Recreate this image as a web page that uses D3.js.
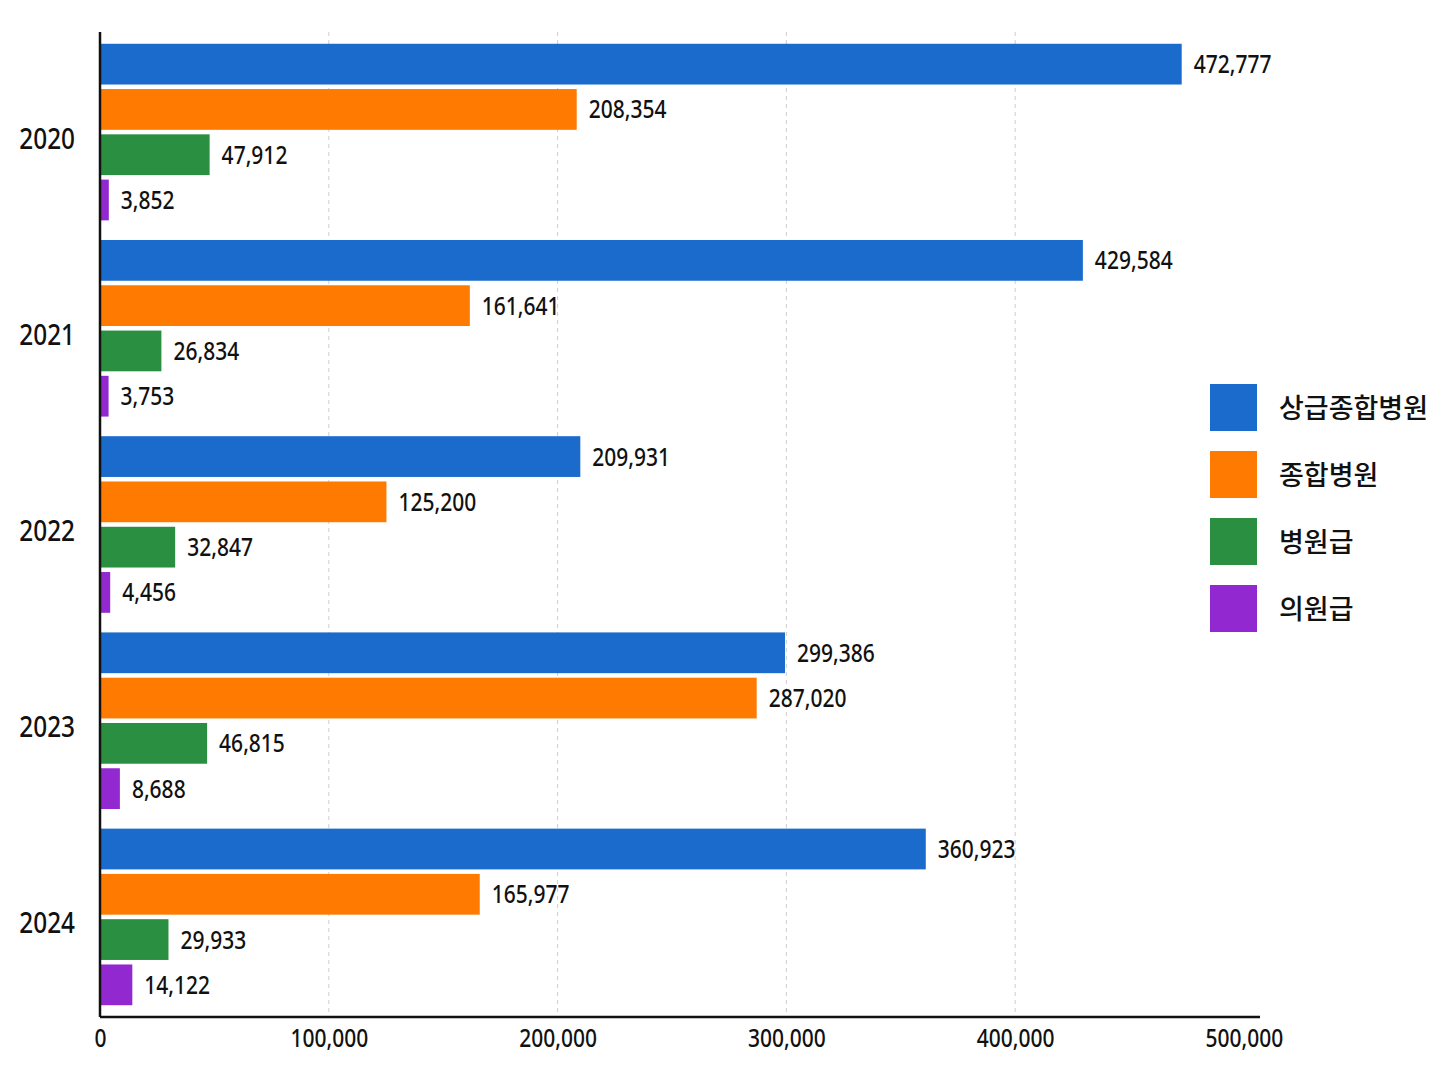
<!DOCTYPE html>
<html>
<head>
<meta charset="utf-8">
<script src="https://cdn.jsdelivr.net/npm/d3@7"></script>
<style>
  body { margin: 0; background: #fff; }
  svg { display: block; }
</style>
</head>
<body>
<svg id="chart"></svg>
<script>
// chart data
const years = ["2020", "2021", "2022", "2023", "2024"];
const seriesNames = ["상급종합병원", "종합병원", "병원급", "의원급"];
const tertiary = [472777, 429584, 209931, 299386, 360923];
const general = [208354, 161641, 125200, 287020, 165977];
const hospital = [47912, 26834, 32847, 46815, 29933];
const clinic = [3852, 3753, 4456, 8688, 14122];
const xTicks = [0, 100000, 200000, 300000, 400000, 500000];

const seriesValues = [tertiary, general, hospital, clinic];
const colors = ["#1a6bcc", "#ff7a00", "#2a8f40", "#9228d0"];

const W = 1448, H = 1086;
const plot = { left: 100, right: 1260, top: 32, bottom: 1017 };
const numFont = "'Noto Sans', 'Open Sans', sans-serif";
const squeeze = 0.84; // narrow digit look

const svg = d3.select("#chart").attr("width", W).attr("height", H);

// scales
const x = d3.scaleLinear().domain([0, 507000]).range([plot.left, plot.right]);
const y0 = d3.scaleBand().domain(years).range([plot.top, plot.bottom])
    .paddingInner(0.1).paddingOuter(0.06);
const y1 = d3.scaleBand().domain(seriesNames).range([0, y0.bandwidth()])
    .paddingInner(0.1);

// gridlines
svg.append("g")
    .selectAll("line")
    .data(xTicks.filter(d => d > 0 && d < 500000))
    .enter().append("line")
    .attr("x1", d => x(d)).attr("x2", d => x(d))
    .attr("y1", plot.top).attr("y2", plot.bottom)
    .attr("stroke", "#cfcfcf")
    .attr("stroke-width", 1)
    .attr("stroke-dasharray", "4,4");

// table rows for bars
const rows = [];
years.forEach((yr, i) => {
    seriesNames.forEach((s, j) => {
        rows.push({ year: yr, series: s, value: seriesValues[j][i], color: colors[j] });
    });
});

const g = svg.append("g");

g.selectAll(".bar")
    .data(rows)
    .enter().append("rect")
    .attr("class", "bar")
    .attr("x", x(0))
    .attr("y", d => y0(d.year) + y1(d.series))
    .attr("width", d => x(d.value) - x(0))
    .attr("height", y1.bandwidth())
    .attr("fill", d => d.color);

// value labels
g.selectAll(".label")
    .data(rows)
    .enter().append("text")
    .attr("class", "label")
    .attr("transform", d => `translate(${x(d.value) + 12},${y0(d.year) + y1(d.series) + y1.bandwidth() / 2}) scale(${squeeze},1)`)
    .attr("dy", "0.36em")
    .attr("font-family", numFont)
    .attr("font-size", "25px")
    .attr("font-weight", 500)
    .attr("fill", "#111")
    .text(d => d3.format(",")(d.value));

// year labels
svg.append("g")
    .selectAll("text")
    .data(years)
    .enter().append("text")
    .attr("transform", d => `translate(75,${y0(d) + y0.bandwidth() / 2 + 6}) scale(${squeeze},1)`)
    .attr("dy", "0.36em")
    .attr("text-anchor", "end")
    .attr("font-family", numFont)
    .attr("font-size", "29px")
    .attr("font-weight", 500)
    .attr("fill", "#111")
    .text(d => d);

// x axis
const xAxis = d3.axisBottom(x)
    .tickValues(xTicks)
    .tickSize(0)
    .tickPadding(12)
    .tickFormat(d3.format(","));

const ax = svg.append("g")
    .attr("transform", `translate(0,${plot.bottom})`)
    .call(xAxis);
ax.select(".domain").remove();
ax.selectAll("text")
    .attr("font-family", numFont)
    .attr("font-size", "25px")
    .attr("font-weight", 500)
    .attr("fill", "#111")
    .attr("transform", `scale(${squeeze},1)`);

// axis lines
svg.append("line")
    .attr("x1", plot.left).attr("x2", plot.right)
    .attr("y1", plot.bottom).attr("y2", plot.bottom)
    .attr("stroke", "#111").attr("stroke-width", 2.5);
svg.append("line")
    .attr("x1", plot.left).attr("x2", plot.left)
    .attr("y1", plot.top).attr("y2", plot.bottom)
    .attr("stroke", "#111").attr("stroke-width", 2.5);

// legend
const legend = svg.append("g").attr("transform", "translate(1210,384)");
const items = legend.selectAll("g")
    .data(seriesNames)
    .enter().append("g")
    .attr("transform", (d, i) => `translate(0,${i * 67})`);

items.append("rect")
    .attr("width", 47).attr("height", 47)
    .attr("fill", (d, i) => colors[i]);

items.append("text")
    .attr("x", 69).attr("y", 24)
    .attr("dy", "0.36em")
    .attr("font-family", "'Noto Sans CJK KR', sans-serif")
    .attr("font-size", "27px")
    .attr("font-weight", 500)
    .attr("fill", "#111")
    .text(d => d);
</script>
</body>
</html>
